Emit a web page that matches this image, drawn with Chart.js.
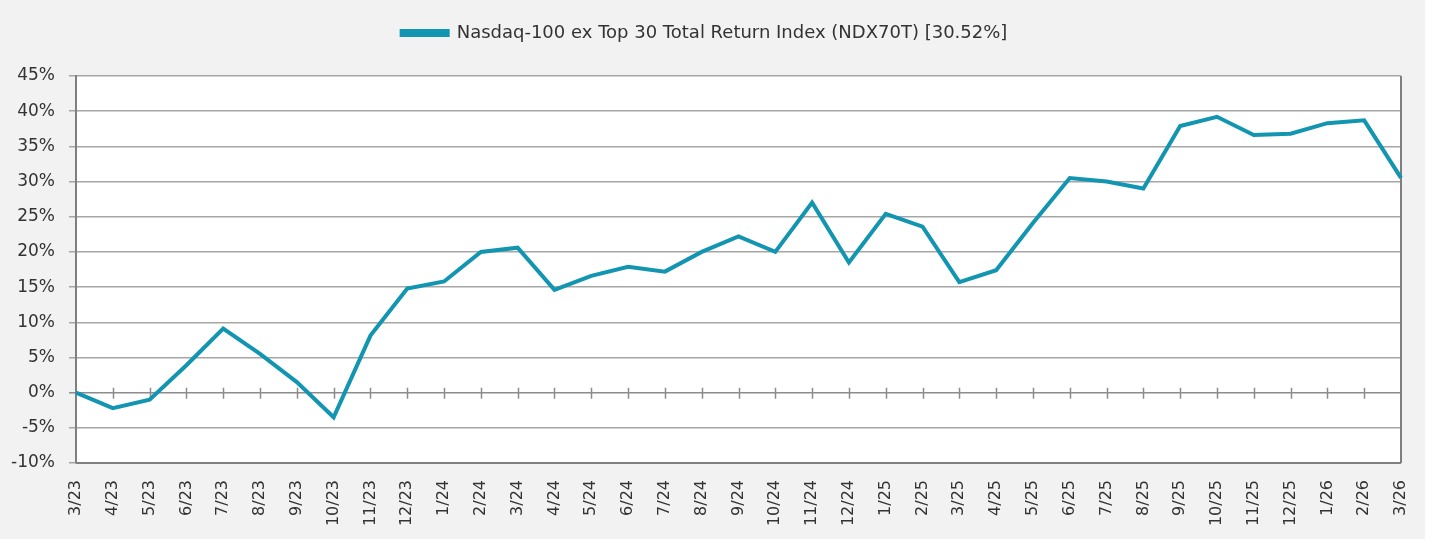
<!DOCTYPE html>
<html>
<head>
<meta charset="utf-8">
<script src="https://cdn.jsdelivr.net/npm/chart.js@4"></script>
<style>
  html, body { margin: 0; padding: 0; background: #ffffff; }
  #wrap { width: 1425px; height: 539px; background: #f2f2f2; }
</style>
</head>
<body>
<div id="wrap"><canvas id="myLineChart" width="1425" height="539"></canvas></div>
<script>
const monthLabels = ["3/23","4/23","5/23","6/23","7/23","8/23","9/23","10/23","11/23","12/23",
  "1/24","2/24","3/24","4/24","5/24","6/24","7/24","8/24","9/24","10/24","11/24","12/24",
  "1/25","2/25","3/25","4/25","5/25","6/25","7/25","8/25","9/25","10/25","11/25","12/25",
  "1/26","2/26","3/26"];
const ndx70tReturn = [0, -2.2, -1.0, 3.9, 9.1, 5.5, 1.5, -3.5, 8.1, 14.8,
  15.8, 20.0, 20.6, 14.6, 16.6, 17.9, 17.2, 20.0, 22.2, 20.0, 27.0, 18.5,
  25.4, 23.6, 15.7, 17.4, 24.1, 30.5, 30.0, 29.0, 37.9, 39.2, 36.6, 36.8,
  38.3, 38.7, 30.52];
const seriesName = "Nasdaq-100 ex Top 30 Total Return Index (NDX70T) [30.52%]";
const yMin = -10, yMax = 45, yStep = 5;

const lineColor = "#1295b1";
const fontFamily = "'DejaVu Sans', 'Open Sans', sans-serif";

// extra room under the legend
const legendMargin = {
  id: "legendMargin",
  beforeInit(chart) {
    const fit = chart.legend.fit;
    chart.legend.fit = function () {
      fit.bind(chart.legend)();
      this.height += 24;
    };
  },
};

// white plot area + frame + little ticks on the zero line
const plotFrame = {
  id: "plotFrame",
  beforeDraw(chart) {
    const { ctx, chartArea: a } = chart;
    ctx.save();
    ctx.fillStyle = "#ffffff";
    ctx.fillRect(a.left, a.top, a.right - a.left, a.bottom - a.top);
    ctx.restore();
  },
  beforeDatasetsDraw(chart) {
    const { ctx, chartArea: a, scales } = chart;
    const y0 = scales.y.getPixelForValue(0);
    ctx.save();
    ctx.strokeStyle = "#8c8c8c";
    ctx.lineWidth = 1.5;
    ctx.beginPath();
    for (let i = 1; i < monthLabels.length - 1; i++) {
      const x = Math.round(scales.x.getPixelForValue(i)) + 0.5;
      ctx.moveTo(x, y0 - 5);
      ctx.lineTo(x, y0 + 6);
    }
    ctx.stroke();
    ctx.strokeStyle = "#7f7f7f";
    ctx.lineWidth = 2;
    ctx.beginPath();
    ctx.moveTo(a.left, a.bottom);
    ctx.lineTo(a.right, a.bottom);
    ctx.moveTo(a.right, a.top);
    ctx.lineTo(a.right, a.bottom);
    ctx.moveTo(a.left, a.top);
    ctx.lineTo(a.left, a.bottom);
    ctx.stroke();
    ctx.restore();
  },
};

const ctx = document.getElementById("myLineChart").getContext("2d");
const myLineChart = new Chart(ctx, {
  type: "line",
  data: {
    labels: monthLabels,
    datasets: [
      {
        label: seriesName,
        data: ndx70tReturn,
        borderColor: lineColor,
        backgroundColor: lineColor,
        borderWidth: 4,
        pointRadius: 0,
        tension: 0,
        borderJoinStyle: "miter",
      },
    ],
  },
  options: {
    responsive: false,
    maintainAspectRatio: false,
    animation: false,
    layout: { padding: { left: 8, right: 24, top: 4, bottom: 0 } },
    plugins: {
      tooltip: { enabled: false },
      legend: {
        position: "top",
        align: "center",
        labels: {
          boxWidth: 46,
          boxHeight: 4,
          padding: 20,
          color: "#333333",
          font: { family: fontFamily, size: 18 },
        },
      },
    },
    scales: {
      x: {
        type: "category",
        offset: false,
        grid: { display: false, drawTicks: false },
        border: { display: false },
        afterFit: (scale) => {
          scale.height = 76;
          scale.paddingLeft = 0;
          scale.paddingRight = 0;
        },
        ticks: {
          autoSkip: false,
          maxRotation: 90,
          minRotation: 90,
          padding: 17,
          color: "#333333",
          font: { family: fontFamily, size: 16 },
        },
      },
      y: {
        min: yMin,
        max: yMax,
        afterFit: (scale) => { scale.width = 68; },
        grid: {
          color: (c) => (c.tick && c.tick.value === 0 ? "#8c8c8c" : "#a6a6a6"),
          lineWidth: 1.5,
          tickLength: 7,
        },
        border: { display: true, color: "#7f7f7f", width: 2 },
        ticks: {
          stepSize: yStep,
          padding: 14,
          color: "#333333",
          font: { family: fontFamily, size: 17 },
          callback: (v) => v + "%",
        },
      },
    },
  },
  plugins: [plotFrame, legendMargin],
});
</script>
</body>
</html>
